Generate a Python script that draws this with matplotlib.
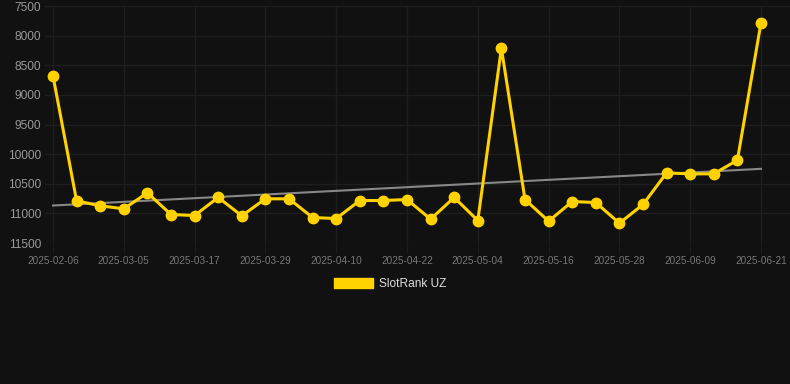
import matplotlib
matplotlib.use("Agg")
import matplotlib.pyplot as plt
from matplotlib.patches import Patch
import numpy as np

plt.rcParams['font.family'] = ['Liberation Sans', 'DejaVu Sans']

dates = ["2025-02-06", "2025-02-21", "2025-03-01", "2025-03-05", "2025-03-09", "2025-03-13",
         "2025-03-17", "2025-03-21", "2025-03-25", "2025-03-29", "2025-04-02", "2025-04-06",
         "2025-04-10", "2025-04-14", "2025-04-18", "2025-04-22", "2025-04-26", "2025-04-30",
         "2025-05-04", "2025-05-08", "2025-05-12", "2025-05-16", "2025-05-20", "2025-05-24",
         "2025-05-28", "2025-06-01", "2025-06-05", "2025-06-09", "2025-06-13", "2025-06-17",
         "2025-06-21"]
rank = [8680, 10788, 10872, 10923, 10653, 11019, 11036, 10731, 11041, 10754, 10754, 11070,
        11087, 10783, 10783, 10766, 11098, 10731, 11121, 8213, 10766, 11132, 10800, 10817,
        11166, 10850, 10316, 10333, 10333, 10102, 7781]
series_name = "SlotRank UZ"
y_ticks = [7500, 8000, 8500, 9000, 9500, 10000, 10500, 11000, 11500]

W, H = 790, 384
fig = plt.figure(figsize=(W / 100, H / 100), dpi=100)
bg = "#111111"
fig.patch.set_facecolor(bg)

left, right, top, bottom = 45, 790, 6, 243
ax = fig.add_axes([left / W, 1 - bottom / H, (right - left) / W, (bottom - top) / H])
ax.set_facecolor(bg)

x = np.arange(len(rank))
ax.plot(x, rank, color="#FFD200", linewidth=2.2, marker="o", markersize=7.5,
        markerfacecolor="#FFD200", markeredgecolor="#FFD200", zorder=4)

# trend line (linear regression)
coef = np.polyfit(x, rank, 1)
ax.plot(x, np.polyval(coef, x), color="#888888", linewidth=1.5, zorder=3)

px = (761 - 53) / 30
ax.set_xlim(-(53 - left) / px, 30 + (right - 761) / px)
ax.set_ylim(11500, 7500)
ax.set_yticks(y_ticks)
ax.set_yticklabels([str(v) for v in y_ticks])
tick_idx = list(range(0, len(dates), 3))
ax.set_xticks(tick_idx)
ax.set_xticklabels([dates[i] for i in tick_idx])

ax.grid(True, color="#1e1e1e", linewidth=1)
ax.set_axisbelow(True)
for s in ax.spines.values():
    s.set_visible(False)
ax.tick_params(axis='y', length=0, pad=3, labelsize=8.6, labelcolor="#999999")
ax.tick_params(axis='x', length=7, color="#1e1e1e", pad=2, labelsize=7.2, labelcolor="#777777")

handle = Patch(facecolor="#FFD200", edgecolor="#FFD200")
leg = fig.legend([handle], [series_name], loc="center", bbox_to_anchor=(390 / W, 1 - 284 / H),
                 frameon=False, fontsize=8.6, handlelength=3.3, handleheight=1.0,
                 handletextpad=0.5, labelcolor="#dddddd")

fig.savefig("out.png", dpi=100, facecolor=bg)
